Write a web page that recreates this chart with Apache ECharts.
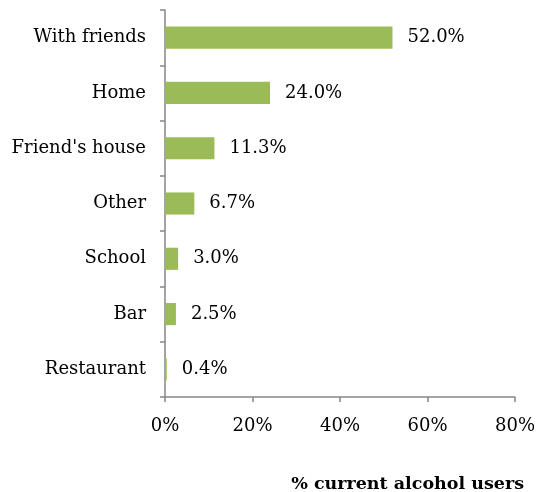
<!DOCTYPE html>
<html lang="en" style="height:100%">
  <head>
    <meta http-equiv="Content-Type" content="text/html; charset=utf-8">
    <title>alcohol use places</title>
    <script type="text/javascript" src="https://cdn.jsdelivr.net/npm/echarts@6/dist/echarts.min.js"></script>
    <style>
      html, body { margin:0; padding:0; background:#fff; }
      #chart { width:543px; height:492px; }
    </style>
  </head>
  <body>
    <div id="chart"></div>
    <script type="text/javascript">
      // top to bottom, as in the picture
      var places = ['With friends', 'Home', "Friend's house", 'Other', 'School', 'Bar', 'Restaurant'];
      var percents = [52.0, 24.0, 11.3, 6.7, 3.0, 2.5, 0.4];
      var xTicks = [0, 20, 40, 60, 80];

      var FONT = 'DejaVu Serif';
      var AXIS_GREY = '#868686';

      var myChart = echarts.init(document.getElementById('chart'));
      var option = {
        animation: false,
        title: {
          text: '% current alcohol users',
          right: 14,
          top: 470,
          textStyle: { fontFamily: FONT, fontSize: 17.5, fontWeight: 'bold', color: '#000' }
        },
        grid: { left: 165, right: 28, top: 10, bottom: 95, containLabel: false },
        xAxis: {
          type: 'value',
          min: xTicks[0],
          max: xTicks[xTicks.length - 1],
          interval: xTicks[1] - xTicks[0],
          axisLine: { show: true, lineStyle: { color: AXIS_GREY, width: 1.5 } },
          axisTick: { show: true, length: 5, lineStyle: { color: AXIS_GREY, width: 1.5 } },
          splitLine: { show: false },
          axisLabel: {
            margin: 20,
            fontFamily: FONT, fontSize: 18, color: '#000',
            formatter: function(v){ return v + '%'; }
          }
        },
        yAxis: {
          type: 'category',
          inverse: true,
          data: places,
          axisLine: { show: true, lineStyle: { color: AXIS_GREY, width: 1.5 } },
          axisTick: { show: true, length: 5, lineStyle: { color: AXIS_GREY, width: 1.5 } },
          axisLabel: { margin: 19, fontFamily: FONT, fontSize: 18, color: '#000' }
        },
        series: [{
          type: 'bar',
          data: percents,
          barWidth: '40%',
          itemStyle: { color: '#9BBB59' },
          label: {
            show: true,
            position: 'right',
            distance: 15,
            fontFamily: FONT, fontSize: 18, color: '#000',
            formatter: function(p){ return p.value.toFixed(1) + '%'; }
          }
        }]
      };
      myChart.setOption(option);
    </script>
  </body>
</html>
